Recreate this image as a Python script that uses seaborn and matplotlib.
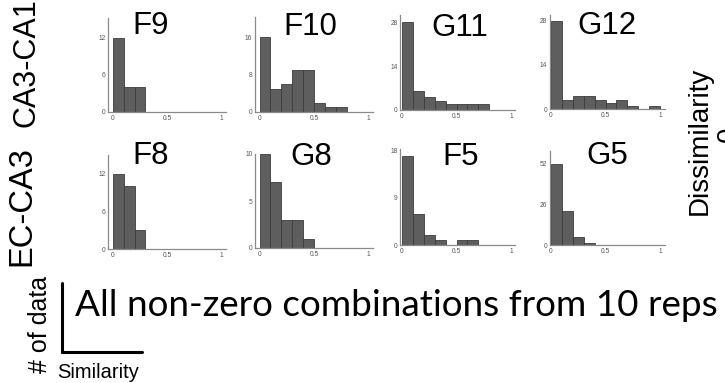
import numpy as np
import pandas as pd
import matplotlib
matplotlib.use("Agg")
import matplotlib.pyplot as plt
import seaborn as sns

sns.set_theme(style="white")
plt.rcParams['font.family'] = ['Liberation Sans', 'DejaVu Sans']

# similarity histogram bins (width 0.1 on [0, 1])
bin_edges = [0.0, 0.1, 0.2, 0.3, 0.4, 0.5, 0.6, 0.7, 0.8, 0.9, 1.0]
bin_centers = [0.05, 0.15, 0.25, 0.35, 0.45, 0.55, 0.65, 0.75, 0.85, 0.95]

# counts of pairwise combinations per bin
f9_counts = [12, 4, 4]
f10_counts = [16, 5, 6, 9, 9, 2, 1, 1]
g11_counts = [28, 6, 4, 3, 2, 2, 2, 2]
g12_counts = [28, 3, 4, 4, 3, 2, 3, 1, 0, 1]
f8_counts = [12, 10, 3]
g8_counts = [10, 7, 3, 3, 1]
f5_counts = [17, 6, 2, 1, 0, 1, 1]
g5_counts = [52, 22, 5, 1]

row_labels = ["CA3-CA1", "EC-CA3"]
panel_names = [["F9", "F10", "G11", "G12"], ["F8", "G8", "F5", "G5"]]
panel_counts = [[f9_counts, f10_counts, g11_counts, g12_counts],
                [f8_counts, g8_counts, f5_counts, g5_counts]]
y_tick_max = [[12, 16, 28, 28], [12, 10, 18, 52]]
x_ticks = [0, 0.5, 1]
x_tick_labels = ["0", "0.5", "1"]
caption = "All non-zero combinations from 10 reps"

W, H = 725, 383
fig = plt.figure(figsize=(W / 100, H / 100), dpi=100)
fig.patch.set_facecolor("white")

# axes geometry in pixels
px_per_unit = 109.0
col_zero_px = [112.7, 259.5, 402.0, 551.0]
col_xlim = [(-0.042, 1.04), (-0.04, 1.04), (-0.015, 1.04), (-0.012, 1.05)]
row_bottom_px = [[112, 112, 110, 109], [249, 248, 245, 245]]
row_top_px = [[18, 17, 15, 15], [155, 154, 149, 151]]
y_lim_top = [[15.2, 20.3, 30.3, 29.8], [15.0, 10.0, 18.3, 60.0]]

title_pos = [[(151, 26), (310, 27), (460, 28), (607, 26)],
             [(151, 156), (311, 157), (461, 157), (607, 156)]]

axis_grey = "#8a8a8a"
bar_fill = "#5e5e5e"
bar_edge = "#3c3c3c"

for r in range(2):
    for c in range(4):
        x0, x1 = col_xlim[c]
        left_px = col_zero_px[c] + x0 * px_per_unit
        width_px = (x1 - x0) * px_per_unit
        bot = row_bottom_px[r][c]
        top = row_top_px[r][c]
        ax = fig.add_axes([left_px / W, 1 - bot / H, width_px / W, (bot - top) / H])
        counts = panel_counts[r][c]
        df = pd.DataFrame({"similarity": bin_centers[:len(counts)], "n": counts})
        sns.histplot(data=df, x="similarity", weights="n", bins=bin_edges, ax=ax,
                     color=bar_fill, edgecolor=bar_edge, linewidth=0.6, alpha=1.0)
        ax.set_xlim(x0, x1)
        ax.set_ylim(0, y_lim_top[r][c])
        m = y_tick_max[r][c]
        ax.set_yticks([0, m / 2, m])
        ax.set_yticklabels([str(int(v)) for v in (0, m / 2, m)])
        ax.set_xticks(x_ticks)
        ax.set_xticklabels(x_tick_labels)
        ax.set_xlabel("")
        ax.set_ylabel("")
        ax.set_facecolor("none")
        for s in ("top", "right"):
            ax.spines[s].set_visible(False)
        for s in ("left", "bottom"):
            ax.spines[s].set_color(axis_grey)
            ax.spines[s].set_linewidth(0.9)
        ax.tick_params(direction="in", length=2, width=0.5, colors=axis_grey,
                       labelsize=4.8, labelcolor="#555555", pad=2)
        tx, ty = title_pos[r][c]
        fig.text(tx / W, 1 - ty / H, panel_names[r][c], fontsize=22.5,
                 ha="center", va="center", color="black")

# row labels
fig.text(26 / W, 1 - 63 / H, row_labels[0], rotation=90, fontsize=22,
         ha="center", va="center", color="black")
fig.text(22 / W, 1 - 206 / H, row_labels[1], rotation=90, fontsize=23.5,
         ha="center", va="center", color="black")

# colour scale label at the right edge
fig.text(700 / W, 1 - 141 / H, "Dissimilarity", rotation=90, fontsize=20,
         ha="center", va="center", color="black")
fig.text(716 / W, 1 - 134 / H, "0", rotation=90, fontsize=20,
         ha="left", va="center", color="black")

# scale-bar legend: y = # of data, x = Similarity
fig.add_artist(plt.Line2D([62 / W, 62 / W], [1 - 283 / H, 1 - 352 / H],
                          color="black", linewidth=2.2, transform=fig.transFigure))
fig.add_artist(plt.Line2D([62 / W, 142 / W], [1 - 352 / H, 1 - 352 / H],
                          color="black", linewidth=2.2, transform=fig.transFigure))
fig.text(40 / W, 1 - 324 / H, "# of data", rotation=90, fontsize=18,
         ha="center", va="center", color="black")
fig.text(57 / W, 1 - 372 / H, "Similarity", fontsize=14.5,
         ha="left", va="center", color="black")

# caption sized to span the width between the scale bar and the right edge
cap = fig.text(75 / W, 1 - 306 / H, caption, fontsize=27,
               family=["Lato", "DejaVu Sans"], ha="left", va="center", color="black")
renderer = fig.canvas.get_renderer()
cap_w = cap.get_window_extent(renderer).width
cap.set_fontsize(27 * 645 / cap_w)

fig.savefig("out.png", dpi=100)
